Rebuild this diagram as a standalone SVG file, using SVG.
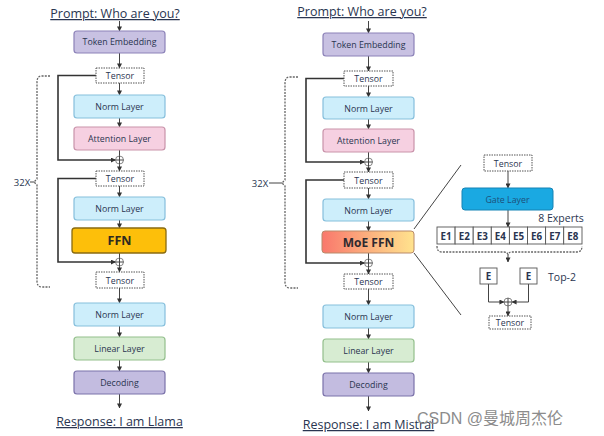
<svg xmlns="http://www.w3.org/2000/svg" width="604" height="436" viewBox="0 0 604 436">
<style>
text{font-family:"Open Sans","Noto Sans","Liberation Sans",sans-serif;fill:#2a3550;text-anchor:middle}
.lbl{font-size:8.8px}
.ttl{font-size:12.5px;text-decoration:underline}
.box{stroke-width:1.2}
.emb{fill:#c8c1e2;stroke:#8c82b8}
.norm{fill:#cdeefb;stroke:#86bfdc}
.att{fill:#f6d0e1;stroke:#c993aa}
.lin{fill:#d7ecd2;stroke:#93bf8c}
.dec{fill:#c3bce0;stroke:#7b72aa}
.ten{fill:#fff;stroke:#555;stroke-dasharray:1.5 1;stroke-width:1}
.ln{fill:none;stroke:#444;stroke-width:1}
.res{fill:none;stroke:#333;stroke-width:1.6}
.brk{fill:none;stroke:#666;stroke-width:1.3;stroke-dasharray:2 1.2}
.plus{fill:#fff;stroke:#777;stroke-width:0.9}
.exp{fill:#fff;stroke:#555;stroke-width:0.9}
.et{font-size:9.8px;font-weight:bold}
</style>
<defs>
<marker id="ah" viewBox="0 0 6 6" refX="5.5" refY="3" markerWidth="5" markerHeight="5" orient="auto" markerUnits="userSpaceOnUse">
<path d="M0,0 L6,3 L0,6 z" fill="#333"/>
</marker>
<linearGradient id="moe" x1="0" x2="1" y1="0" y2="0">
<stop offset="0" stop-color="#f9786c"/>
<stop offset="0.5" stop-color="#fcb07e"/>
<stop offset="1" stop-color="#ffe38e"/>
</linearGradient>
</defs>

<g id="connectors">
<path class="ln" d="M119.5,21 V31" marker-end="url(#ah)"/>
<path class="ln" d="M119.5,53 V68" marker-end="url(#ah)"/>
<path class="ln" d="M119.5,83 V95" marker-end="url(#ah)"/>
<path class="ln" d="M119.5,118 V127" marker-end="url(#ah)"/>
<path class="ln" d="M119.5,150 V156"/>
<path class="ln" d="M119.5,164 V171" marker-end="url(#ah)"/>
<path class="ln" d="M119.5,186 V197" marker-end="url(#ah)"/>
<path class="ln" d="M119.5,220 V228" marker-end="url(#ah)"/>
<path class="ln" d="M119.5,253 V258"/>
<path class="ln" d="M119.5,266 V272" marker-end="url(#ah)"/>
<path class="ln" d="M119.5,288 V303" marker-end="url(#ah)"/>
<path class="ln" d="M119.5,326 V337" marker-end="url(#ah)"/>
<path class="ln" d="M119.5,360 V371" marker-end="url(#ah)"/>
<path class="ln" d="M119.5,394 V408" marker-end="url(#ah)"/>
<path class="res" d="M96,75.5 H58 V160 H115.5" marker-end="url(#ah)"/>
<path class="res" d="M96,178.5 H58 V262 H115.5" marker-end="url(#ah)"/>
<path class="brk" d="M50,76 H42 Q37,76 37,82 V179 L34,182 L37,185 V281 Q37,287 42,287 H50"/>
<path class="ln" d="M30,182 H34"/>
<path class="ln" d="M368.5,21 V33" marker-end="url(#ah)"/>
<path class="ln" d="M368.5,56 V71" marker-end="url(#ah)"/>
<path class="ln" d="M368.5,86 V97" marker-end="url(#ah)"/>
<path class="ln" d="M368.5,119 V129" marker-end="url(#ah)"/>
<path class="ln" d="M368.5,152 V158"/>
<path class="ln" d="M368.5,166 V172" marker-end="url(#ah)"/>
<path class="ln" d="M368.5,188 V199" marker-end="url(#ah)"/>
<path class="ln" d="M368.5,221 V231" marker-end="url(#ah)"/>
<path class="ln" d="M368.5,253 V259"/>
<path class="ln" d="M368.5,267 V274" marker-end="url(#ah)"/>
<path class="ln" d="M368.5,289 V305" marker-end="url(#ah)"/>
<path class="ln" d="M368.5,328 V339" marker-end="url(#ah)"/>
<path class="ln" d="M368.5,362 V373" marker-end="url(#ah)"/>
<path class="ln" d="M368.5,396 V411" marker-end="url(#ah)"/>
<path class="res" d="M344,78.5 H306 V162 H364.5" marker-end="url(#ah)"/>
<path class="res" d="M344,180 H306 V263 H364.5" marker-end="url(#ah)"/>
<path class="brk" d="M298,77 H290 Q285,77 285,83 V180 L282,183 L285,186 V282 Q285,288 290,288 H298"/>
<path class="ln" d="M269,183 H282"/>
<path class="ln" d="M414,229 L461,165" stroke-width="1.2"/>
<path class="ln" d="M414,253 L461,315" stroke-width="1.2"/>
<path class="ln" d="M508,171 V188" marker-end="url(#ah)"/>
<path class="ln" d="M508,210 V227" marker-end="url(#ah)"/>
<path class="brk" d="M437,246 Q437,252 442,252 H504 Q508,252 508,256 Q508,252 512,252 H577 Q582,252 582,246" stroke-width="1"/>
<path class="ln" d="M508,256 V262" marker-end="url(#ah)"/>
<path class="ln" d="M488.5,284 V302 H504" marker-end="url(#ah)"/>
<path class="ln" d="M528.5,284 V302 H512" marker-end="url(#ah)"/>
<path class="ln" d="M508,306 V316" marker-end="url(#ah)"/>
</g>

<text class="ttl" x="115" y="18">Prompt: Who are you?</text>
<text class="ttl" x="362" y="16">Prompt: Who are you?</text>

<g id="l-embed"><rect class="box emb" x="74" y="31" width="91" height="22" rx="3"/><text class="lbl" x="119.5" y="45">Token Embedding</text></g>
<g id="l-tensor1"><rect class="ten" x="96" y="68" width="48" height="15"/><text class="lbl" x="120" y="79">Tensor</text></g>
<g id="l-norm1"><rect class="box norm" x="74" y="95" width="91" height="23" rx="3"/><text class="lbl" x="119.5" y="110">Norm Layer</text></g>
<g id="l-attn"><rect class="box att" x="74" y="127" width="91" height="23" rx="3"/><text class="lbl" x="119.5" y="142">Attention Layer</text></g>
<g id="l-plus1"><circle class="plus" cx="119.5" cy="160" r="4"/><path class="ln" d="M115.5,160 H123.5 M119.5,156 V164" stroke-width="0.7"/></g>
<g id="l-tensor2"><rect class="ten" x="96" y="171" width="48" height="15"/><text class="lbl" x="120" y="182">Tensor</text></g>
<g id="l-norm2"><rect class="box norm" x="74" y="197" width="91" height="23" rx="3"/><text class="lbl" x="119.5" y="212">Norm Layer</text></g>
<g id="l-ffn"><rect x="72" y="228" width="94" height="25" rx="3" fill="#fdbf0a" stroke="#8a6b10" stroke-width="1.3"/><text x="119.5" y="245" style="font-size:12.5px;font-weight:bold;fill:#2e2a20">FFN</text></g>
<g id="l-plus2"><circle class="plus" cx="119.5" cy="262" r="4"/><path class="ln" d="M115.5,262 H123.5 M119.5,258 V266" stroke-width="0.7"/></g>
<g id="l-tensor3"><rect class="ten" x="96" y="272" width="48" height="16"/><text class="lbl" x="120" y="283.5">Tensor</text></g>
<g id="l-norm3"><rect class="box norm" x="74" y="303" width="91" height="23" rx="3"/><text class="lbl" x="119.5" y="318">Norm Layer</text></g>
<g id="l-linear"><rect class="box lin" x="74" y="337" width="91" height="23" rx="3"/><text class="lbl" x="119.5" y="352">Linear Layer</text></g>
<g id="l-decode"><rect class="box dec" x="74" y="371" width="91" height="23" rx="3"/><text class="lbl" x="119.5" y="386">Decoding</text></g>
<text class="ttl" x="119.5" y="426">Response: I am Llama</text>
<text x="22" y="186" style="font-size:9.5px">32X</text>

<g id="r-embed"><rect class="box emb" x="323" y="33" width="91" height="23" rx="3"/><text class="lbl" x="368.5" y="48">Token Embedding</text></g>
<g id="r-tensor1"><rect class="ten" x="344" y="71" width="49" height="15"/><text class="lbl" x="368.5" y="82">Tensor</text></g>
<g id="r-norm1"><rect class="box norm" x="323" y="97" width="91" height="22" rx="3"/><text class="lbl" x="368.5" y="111.5">Norm Layer</text></g>
<g id="r-attn"><rect class="box att" x="323" y="129" width="91" height="23" rx="3"/><text class="lbl" x="368.5" y="144">Attention Layer</text></g>
<g id="r-plus1"><circle class="plus" cx="368.5" cy="162" r="4"/><path class="ln" d="M364.5,162 H372.5 M368.5,158 V166" stroke-width="0.7"/></g>
<g id="r-tensor2"><rect class="ten" x="344" y="172" width="49" height="16"/><text class="lbl" x="368.5" y="183.5">Tensor</text></g>
<g id="r-norm2"><rect class="box norm" x="323" y="199" width="91" height="22" rx="3"/><text class="lbl" x="368.5" y="213.5">Norm Layer</text></g>
<g id="r-moe"><rect x="322" y="231" width="92" height="22" rx="3" fill="url(#moe)" stroke="#b98a6a" stroke-width="1"/><text x="368.5" y="246.5" style="font-size:12px;font-weight:bold;fill:#2e2a30">MoE FFN</text></g>
<g id="r-plus2"><circle class="plus" cx="368.5" cy="263" r="4"/><path class="ln" d="M364.5,263 H372.5 M368.5,259 V267" stroke-width="0.7"/></g>
<g id="r-tensor3"><rect class="ten" x="344" y="274" width="49" height="15"/><text class="lbl" x="368.5" y="285">Tensor</text></g>
<g id="r-norm3"><rect class="box norm" x="323" y="305" width="91" height="23" rx="3"/><text class="lbl" x="368.5" y="320">Norm Layer</text></g>
<g id="r-linear"><rect class="box lin" x="323" y="339" width="91" height="23" rx="3"/><text class="lbl" x="368.5" y="354">Linear Layer</text></g>
<g id="r-decode"><rect class="box dec" x="323" y="373" width="91" height="23" rx="3"/><text class="lbl" x="368.5" y="388">Decoding</text></g>
<text class="ttl" x="368.5" y="429">Response: I am Mistral</text>
<text x="260" y="187" style="font-size:9.5px">32X</text>

<g id="moe-tensor-in"><rect class="ten" x="484" y="155" width="48" height="16"/><text class="lbl" x="508" y="166.5">Tensor</text></g>
<g id="gate"><rect x="462" y="188" width="91" height="22" rx="3" fill="#1aa9e2" stroke="#1583b5" stroke-width="1"/><text class="lbl" x="507.5" y="202.5" style="fill:#1d4f7a">Gate Layer</text></g>
<text x="561" y="222" style="font-size:10.5px">8 Experts</text>
<g id="experts">
<rect class="exp" x="437" y="227" width="18.1" height="17"/><text class="et" x="446" y="239.5">E1</text>
<rect class="exp" x="455.1" y="227" width="18.1" height="17"/><text class="et" x="464.2" y="239.5">E2</text>
<rect class="exp" x="473.2" y="227" width="18.1" height="17"/><text class="et" x="482.3" y="239.5">E3</text>
<rect class="exp" x="491.3" y="227" width="18.1" height="17"/><text class="et" x="500.4" y="239.5">E4</text>
<rect class="exp" x="509.4" y="227" width="18.1" height="17"/><text class="et" x="518.5" y="239.5">E5</text>
<rect class="exp" x="527.5" y="227" width="18.1" height="17"/><text class="et" x="536.6" y="239.5">E6</text>
<rect class="exp" x="545.6" y="227" width="18.1" height="17"/><text class="et" x="554.7" y="239.5">E7</text>
<rect class="exp" x="563.7" y="227" width="18.3" height="17"/><text class="et" x="572.8" y="239.5">E8</text>
</g>
<g id="e-left"><rect class="exp" x="480" y="268" width="17" height="16"/><text class="et" x="488.5" y="280">E</text></g>
<g id="e-right"><rect class="exp" x="520" y="268" width="17" height="16"/><text class="et" x="528.5" y="280">E</text></g>
<text x="562" y="281" style="font-size:10.5px">Top-2</text>
<g id="moe-plus"><circle class="plus" cx="508" cy="302" r="4"/><path class="ln" d="M504,302 H512 M508,298 V306" stroke-width="0.7"/></g>
<g id="moe-tensor-out"><rect class="ten" x="489" y="316" width="42" height="13"/><text class="lbl" x="510" y="326">Tensor</text></g>

<text x="417" y="424" style="font-family:'Liberation Sans','Noto Sans CJK SC',sans-serif;font-size:16px;fill:#8c8c8c;text-anchor:start">CSDN @曼城周杰伦</text>
</svg>
